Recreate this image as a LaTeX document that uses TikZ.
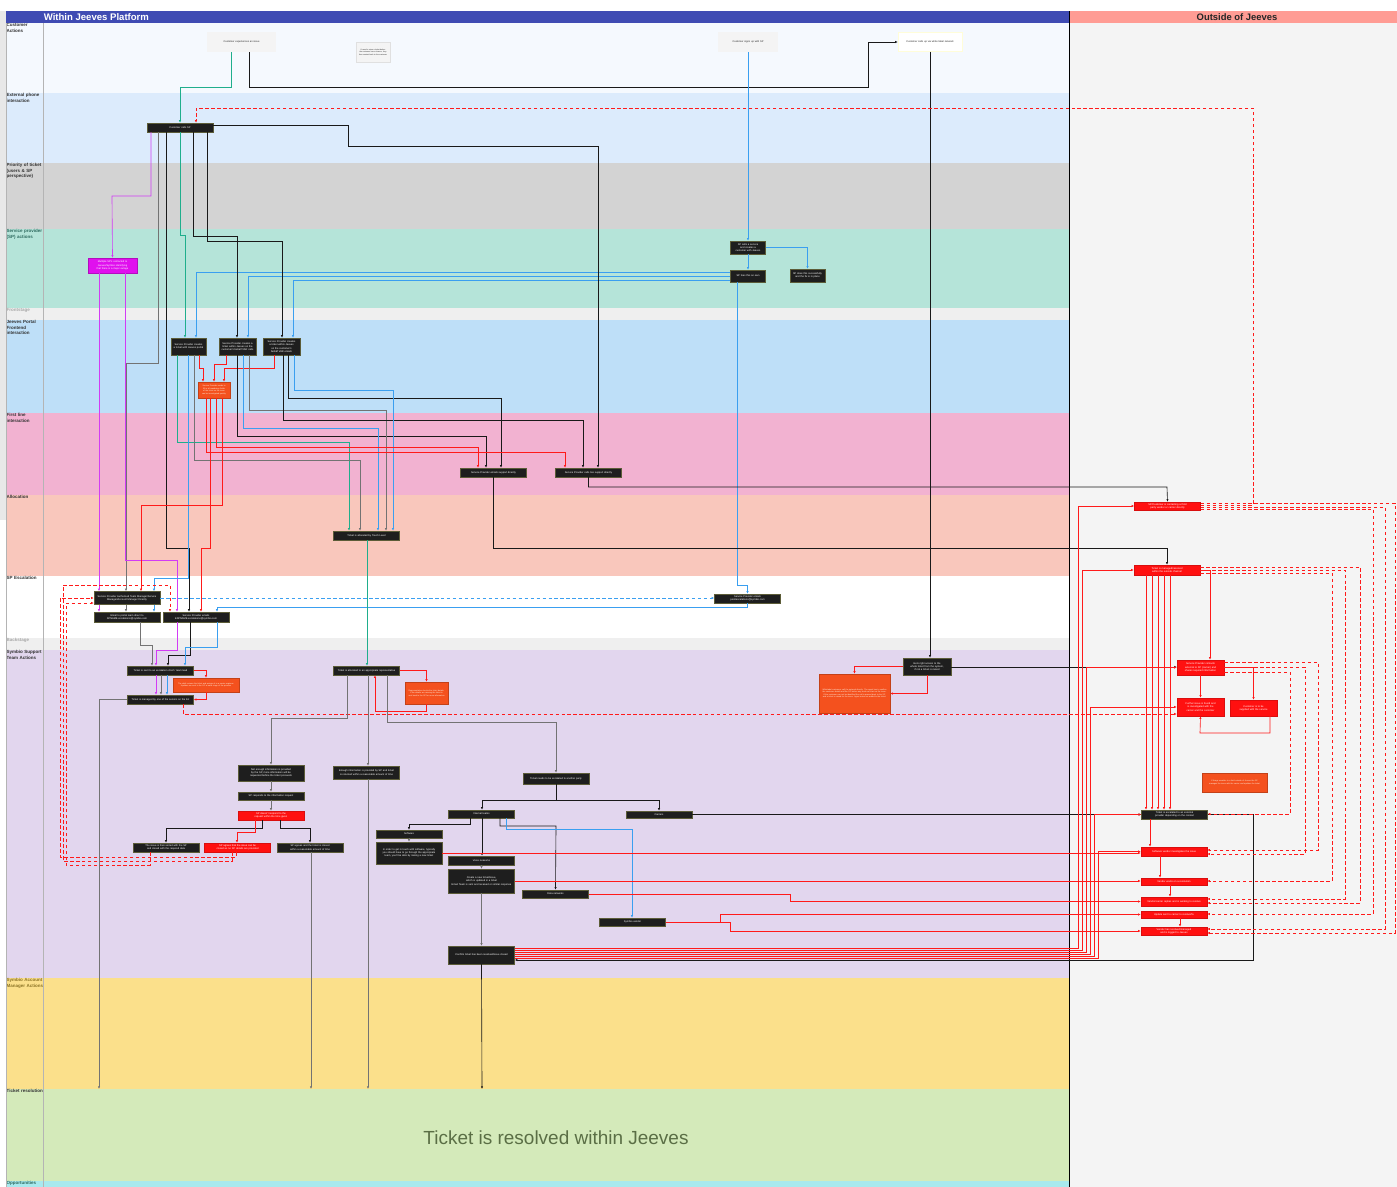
\documentclass[tikz,border=0pt]{standalone}
\usepackage{fontspec}
\setmainfont{Liberation Sans}
\usetikzlibrary{arrows.meta}
\hyphenpenalty=10000
\exhyphenpenalty=10000

\definecolor{hdrblue}{HTML}{3F4BB3}
\definecolor{hdrsalmon}{HTML}{FF9C94}
\definecolor{laneCust}{HTML}{F5F9FE}
\definecolor{lanePhone}{HTML}{DCEBFC}
\definecolor{lanePrio}{HTML}{D3D3D3}
\definecolor{laneSP}{HTML}{B5E4D9}
\definecolor{laneStage}{HTML}{EFEFEF}
\definecolor{lanePortal}{HTML}{BEDFF8}
\definecolor{laneFirst}{HTML}{F2B2D1}
\definecolor{laneAlloc}{HTML}{F9C7BC}
\definecolor{laneSupport}{HTML}{E2D6EE}
\definecolor{laneAM}{HTML}{FBE08B}
\definecolor{laneRes}{HTML}{D4EABA}
\definecolor{laneOpp}{HTML}{A8E9EE}
\definecolor{outgrey}{HTML}{F4F4F4}
\definecolor{lanegrey}{HTML}{B4B4B4}
\definecolor{lblDark}{HTML}{333333}
\definecolor{lblTeal}{HTML}{2F6B60}
\definecolor{lblGrey}{HTML}{A8A8A8}
\definecolor{lblOlive}{HTML}{8C7426}
\definecolor{boxdark}{HTML}{1E1E1E}
\definecolor{boxedge}{HTML}{5C5C38}
\definecolor{boxred}{HTML}{FF1010}
\definecolor{boxorange}{HTML}{F4511E}
\definecolor{boxmag}{HTML}{E010EE}
\definecolor{custgrey}{HTML}{F4F4F4}
\definecolor{linered}{HTML}{FF1A1A}
\definecolor{lineblue}{HTML}{3A9FF0}
\definecolor{lineteal}{HTML}{1FAE8C}
\definecolor{linemag}{HTML}{D23CF5}
\definecolor{resgreen}{HTML}{5A6E45}

\tikzset{
  lanelbl/.style={anchor=north west, font=\fontsize{6.4}{7.4}\selectfont\bfseries,
    text width=1.85cm, align=left, inner sep=0.8pt},
  blk/.style={fill=boxdark, draw=boxedge, line width=0.5pt, text=white,
    font=\fontsize{3.6}{4.6}\selectfont, align=center, inner sep=0.6pt,
    minimum height=0.45cm},
  wide/.style={minimum width=3.3cm, text width=3.05cm},
  mid/.style={minimum width=2.4cm, text width=2.2cm},
  slim/.style={minimum width=1.75cm, text width=1.6cm},
  redbox/.style={blk, fill=boxred, draw=boxred!85!black},
  orgbox/.style={blk, fill=boxorange, draw=boxorange!80!black, text=white!88!orange,
    font=\fontsize{2.8}{3.6}\selectfont},
  magbox/.style={blk, fill=boxmag, draw=boxmag!80!black},
  cbox/.style={fill=custgrey, text=black!85, font=\fontsize{3.6}{4.6}\selectfont,
    align=center, inner sep=0.6pt},
  ln/.style={line width=0.9pt, -{Latex[length=1.3mm,width=1.1mm]}},
  bk/.style={ln, draw=black!90},
  gy/.style={ln, draw=black!55},
  bl/.style={ln, draw=lineblue},
  tl/.style={ln, draw=lineteal},
  rd/.style={ln, draw=linered},
  mg/.style={ln, draw=linemag},
  rdash/.style={ln, draw=linered, dash pattern=on 5pt off 3.5pt},
  bdash/.style={ln, draw=lineblue, dash pattern=on 5pt off 3.5pt},
}

\begin{document}
\begin{tikzpicture}[x=0.05cm, y=-0.05cm]
\useasboundingbox (0,0) rectangle (1397,1187);
\fill[white] (0,0) rectangle (1397,1187);

%%% lanes
\fill[black!9] (0,11) rectangle (6,520);
\foreach \ya/\yb/\col/\tc/\txt in {
  23/93/laneCust/lblDark/{Customer Actions},
  93/163/lanePhone/lblDark/{External phone interaction},
  163/229/lanePrio/lblDark/{Priority of ticket (users \& SP perspective)},
  229/308/laneSP/lblTeal/{Service provider (SP) actions},
  308/320/laneStage/lblGrey/{Frontstage},
  320/413/lanePortal/lblDark/{Jeeves Portal Frontend interaction},
  413/495/laneFirst/lblDark/{First line interaction},
  495/576/laneAlloc/lblDark/{Allocation},
  576/638/white/lblDark/{SP Escalation},
  638/650/laneStage/lblGrey/{Backstage},
  650/978/laneSupport/lblDark/{Symbio Support Team Actions},
  978/1089/laneAM/lblOlive/{Symbio Account Manager Actions},
  1089/1181/laneRes/lblDark/{Ticket resolution},
  1181/1187/laneOpp/lblTeal/{Opportunities}}{
  \fill[\col] (6,\ya) rectangle (1069,\yb);
  \draw[lanegrey, line width=0.8pt] (6,\yb) -- (1069,\yb);
  \node[lanelbl, text=\tc] (lbl\ya) at (6,\ya) {\txt};
}
\draw[lanegrey, line width=0.8pt] (43,11) -- (43,1187);
\draw[lanegrey, line width=0.8pt] (6,11) -- (6,1187);

%%% outside area + headers
\fill[outgrey] (1069,23) rectangle (1397,1187);
\fill[hdrblue] (6,11) rectangle (1069,23);
\fill[hdrsalmon] (1070,11) rectangle (1397,23);
\draw[black, line width=1pt] (1069,11) -- (1069,1187);
\node[anchor=west, inner sep=1pt, text=white, font=\fontsize{13.6}{15}\selectfont\bfseries] (hdrIn) at (43,17.5) {Within Jeeves Platform};
\node[inner sep=1pt, text=black!85, font=\fontsize{13.4}{15}\selectfont\bfseries] (hdrOut) at (1237,17.5) {Outside of Jeeves};

\node[text=resgreen, font=\fontsize{27}{32}\selectfont] (resolved) at (556,1138) {Ticket is resolved within Jeeves};

%%% customer / phone / SP
\node[cbox, minimum width=3.45cm, minimum height=1cm, text width=3.2cm] (cexp) at (241.5,42) {Customer experiences an issue};
\node[cbox, draw=black!12, line width=0.3pt, minimum width=1.7cm, minimum height=1cm, text width=1.55cm, font=\fontsize{2.6}{3.5}\selectfont] (cnote) at (373,52) {If need to raise a ticket before the customer has a chance, they then contact back to the customer};
\node[cbox, minimum width=3cm, minimum height=1cm, text width=2.8cm] (csign) at (748,42) {Customer signs up with SP};
\node[cbox, fill=white, draw=yellow!15!white, line width=0.5pt, minimum width=3.2cm, minimum height=0.95cm, text width=3.1cm] (cwhite) at (930,42) {Customer calls up via white label network};

\node[blk, wide] (ccall) at (180,127.5) {Customer calls SP};
\node[magbox, minimum width=2.45cm, minimum height=0.75cm, text width=2.3cm] (outage) at (112.5,265.5) {Multiple SP's contacted to Jeeves/Symbio identifying that there is a major outage};
\node[blk, slim, minimum height=0.65cm] (spsell) at (748,247.5) {SP sells a service and creates a customer with Jeeves};
\node[blk, slim, minimum height=0.6cm] (sptry) at (748,276) {SP tries this on own};
\node[blk, slim, minimum height=0.65cm] (spdone) at (807.5,275.5) {SP does this successfully and the fix is in place};

%%% portal
\node[blk, slim, minimum height=0.85cm] (tk1) at (188.5,346.5) {Service Provider creates a ticket with Jeeves portal};
\node[blk, slim, minimum width=1.85cm, minimum height=0.85cm] (tk2) at (237.5,346.5) {Service Provider creates a ticket within Jeeves on the customer's behalf VAR calls};
\node[blk, slim, minimum width=1.85cm, minimum height=0.85cm] (tk3) at (281.5,346.5) {Service Provider creates a ticket within Jeeves on the customer's behalf VAR emails};
\node[orgbox, minimum width=1.6cm, minimum height=0.8cm, text width=1.5cm] (note1) at (214,390) {Service Provider needs to fill in all mandatory fields of the ticket so the issue can be investigated quickly};

%%% first line + allocation
\node[blk, wide] (spmail) at (493.5,472.5) {Service Provider emails support directly};
\node[blk, wide] (spphone) at (588.5,472.5) {Service Provider calls live support directly};
\node[blk, wide] (alloc) at (366.5,535.5) {Ticket is allocated by Touch Level};

%%% SP escalation
\node[blk, wide, minimum height=0.65cm] (escmgr) at (127,598) {Service Provider Authorised Team Manager/Service Manager/Account Manager Directly};
\node[blk, wide, minimum height=0.5cm] (escportal) at (127,617) {Email to portal team direct to SPNAME.escalations@symbio.com};
\node[blk, wide, minimum height=0.5cm] (escmail) at (196,617) {Service Provider emails ESPNAME.escalations@symbio.com};
\node[blk, wide] (escpoint) at (747.5,598.5) {Service Provider emails pointescalations@symbio.com};

%%% support team
\node[blk, wide] (chief) at (160.5,670.5) {Ticket is sent to an escalation chief / team lead};
\node[orgbox, minimum width=3.3cm, minimum height=0.7cm, text width=3.1cm] (note2) at (206,685) {The chief reviews the ticket and assigns it to a senior engineer. Updates are sent to the SP at each stage of the process};
\node[blk, wide] (senior) at (160.5,699.5) {Ticket is managed by one of the seniors on the list};
\node[blk, wide] (rep) at (366.5,670.5) {Ticket is allocated to an appropriate representative};
\node[orgbox, minimum width=2.15cm, minimum height=1.1cm, text width=2cm] (note3) at (426.5,693) {Representative checks the ticket details. If the details are missing the ticket is sent back to the SP for more information};
\node[orgbox, minimum width=3.55cm, minimum height=1.95cm, text width=3.35cm] (note4) at (854.5,693.5) {Whitelabel customers call the network directly. The agent has to confirm the customer details and the SP before any work can start on the issue. If the customer can not be identified the call is passed back to the SP and a ticket is raised for the issue. Agent notes are added to the ticket.};
\node[blk, mid, minimum height=0.85cm] (access) at (927,666.5) {Gets right access to the whole ticket from the system, if not a ticket is raised};

\node[blk, wide, minimum height=0.8cm] (noinfo) at (271,773) {Not enough information is provided by the SP, more information will be requested before the ticket proceeds};
\node[blk, wide, minimum height=0.65cm] (okinfo) at (366.5,772.5) {Enough information is provided by SP and ticket is returned within a reasonable amount of time};
\node[blk, wide, minimum height=0.4cm] (resp) at (271,796) {SP responds to the information request};
\node[redbox, wide] (noresp) at (271,815.5) {SP doesn't respond to the request within the time given};
\node[blk, wide] (b1) at (166,847.5) {The issue is then sorted with the SP and closed with the required data};
\node[redbox, wide] (b2) at (237.5,847.5) {SP agrees that the issue can be closed as no SP details are provided};
\node[blk, wide] (b3) at (310,847.5) {SP agrees and the ticket is closed within a reasonable amount of time};
\node[blk, wide, minimum height=0.55cm] (escal) at (556,778.5) {Ticket needs to be escalated to another party};
\node[blk, wide, minimum height=0.4cm] (internal) at (481.5,814) {Internal teams};
\node[blk, wide, minimum height=0.35cm] (carriers) at (659,814.5) {Carriers};
\node[blk, wide, minimum height=0.4cm] (soft) at (409,834) {Software};
\node[blk, wide, minimum height=1.1cm] (softtxt) at (409,853) {In order to get in touch with software, typically you should have to go through the appropriate team, you'll be able by raising a new ticket};
\node[blk, wide] (voice) at (481.5,860.5) {Voice networks};
\node[blk, wide, minimum height=1.2cm] (voicetxt) at (481.5,881) {Create a new ticket/issue, which is updated in a ticket\\[1pt] Email Team is sent and received or similar response};
\node[blk, wide, minimum height=0.4cm] (data) at (555.5,894) {Data networks};
\node[blk, wide, minimum height=0.4cm] (symbio) at (632.5,922) {Symbio vendor};
\node[blk, wide, minimum height=0.9cm] (confirm) at (481.5,955) {Confirm ticket has been resolved/issue closed};

%%% outside of Jeeves
\node[redbox, wide, minimum height=0.4cm] (o1) at (1167.5,506) {SP/Customer is contacting a third party vendor or carrier directly};
\node[redbox, wide, minimum height=0.5cm] (o2) at (1167,570) {Ticket is managed/resolved within the outside channel};
\node[redbox, mid, minimum width=2.35cm, minimum height=0.75cm] (o3) at (1200.5,667.5) {Service Provider contacts external to SP (carrier) and shares required information};
\node[redbox, mid, minimum width=2.35cm, minimum height=0.9cm] (o4) at (1200.5,707) {Further issue is found and is investigated with the carrier and the customer};
\node[redbox, mid, minimum width=2.35cm, minimum height=0.8cm] (o5) at (1253.5,708) {Customer is to be supplied with the service};
\node[orgbox, minimum width=3.25cm, minimum height=0.95cm, text width=3.05cm] (o6) at (1234.5,782.5) {If things escalate to a fault outside of Jeeves the SP manages the issue with the carrier and updates the ticket};
\node[blk, wide] (o7) at (1174.5,814.5) {Ticket is escalated to an external provider depending on the context};
\node[redbox, wide] (o8) at (1174,851.5) {Software vendor investigates the issue};
\node[redbox, wide, minimum height=0.35cm] (o9) at (1174,881.5) {Vendor works on a resolution};
\node[redbox, wide] (o10) at (1174,901.5) {Vendor/carrier replies and is working to resolve};
\node[redbox, wide, minimum height=0.35cm] (o11) at (1174,914.5) {Update sent to carrier to resolve/fix};
\node[redbox, wide, minimum height=0.4cm] (o12) at (1174,931) {Vendor has resolved/managed and is logged to Jeeves};

\coordinate (res1) at (99,1089);
\coordinate (res2) at (311,1089);
\coordinate (res3) at (368,1089);
\coordinate (res4) at (482,1089);

%%% connectors: customer
\draw[bk] (cexp.south -| 249,0) -- (249,87) -| (868,42) -- (cwhite.west);
\draw[tl] (cexp.south -| 231,0) |- (180,87) -- (ccall.north);
\draw[bk] (cwhite.south) -- (cwhite.south |- access.north);
\draw[bl] (csign.south) -- (spsell.north);
\draw[bl] (spsell.south) -- (sptry.north);
\draw[bl] (spsell.east) -| (spdone.north);
\draw[bl] (sptry.west |- 0,272) -| (tk1.north -| 196,0);
\draw[bl] (sptry.west |- 0,276) -| (tk2.north -| 248,0);
\draw[bl] (sptry.west |- 0,280) -| (tk3.north -| 293,0);
\draw[bl] (sptry.south -| 737,0) -- (737,585) -| (escpoint.north);
\draw[bl] (escpoint.south) |- (217,607) -- (escmail.north -| 217,0);
\draw[bdash] (escmgr.east) -- (escmgr.east -| escpoint.west);

%%% connectors: customer calls SP
\draw[tl] (ccall.south) |- (185,235) -- (tk1.north -| 185,0);
\draw[bk] (ccall.south -| 193,0) |- (237,236) -- (tk2.north -| 237,0);
\draw[bk] (ccall.south -| 207,0) |- (282,241) -- (tk3.north -| 282,0);
\draw[bk] (ccall.east |- 0,125) -| (348,146) -| (spphone.north -| 598,0);
\draw[gy] (ccall.south -| 158,0) |- (126,363) -- (escmgr.north -| 126,0);
\draw[bk] (ccall.south -| 166,0) |- (189,548) -- (escmail.north -| 189,0);
\draw[mg] (ccall.south -| 151,0) |- (112,196) -- (outage.north);
\draw[mg] (outage.south -| 99,0) -- (escmgr.north -| 99,0);
\draw[mg] (outage.south -| 125,0) |- (177,560) -- (escmail.north -| 177,0);

%%% connectors: portal tickets
\draw[tl] (tk1.south -| 177,0) |- (349,442) -- (alloc.north -| 349,0);
\draw[bl] (tk1.south -| 188,0) |- (154,578) -- (escmgr.north -| 154,0);
\draw[gy] (tk1.south -| 194,0) |- (360,460) -- (alloc.north -| 360,0);
\draw[rd] (tk1.south -| 199,0) |- (203,368) -- (note1.north -| 203,0);
\draw[rd] (tk2.south -| 226,0) |- (214,364) -- (note1.north);
\draw[rd] (tk3.south -| 274,0) |- (224,368) -- (note1.north -| 224,0);
\draw[bk] (tk2.south -| 237,0) |- (486,436) -- (spmail.north -| 486,0);
\draw[bl] (tk2.south -| 243,0) |- (378,428) -- (alloc.north -| 378,0);
\draw[gy] (tk2.south -| 249,0) |- (386,410) -- (alloc.north -| 386,0);
\draw[bk] (tk3.south -| 283,0) |- (583,420) -- (spphone.north -| 583,0);
\draw[bk] (tk3.south -| 288,0) |- (501,398) -- (spmail.north -| 501,0);
\draw[bl] (tk3.south -| 294,0) |- (393,390) -- (alloc.north -| 393,0);
\draw[rd] (note1.south -| 216,0) |- (478,447) -- (spmail.north -| 478,0);
\draw[rd] (note1.south -| 206,0) |- (565,452) -- (spphone.north -| 565,0);
\draw[rd] (note1.south -| 210,0) |- (201,548) -- (escmail.north -| 201,0);
\draw[rd] (note1.south -| 222,0) |- (141,505) -- (escmgr.north -| 141,0);
\draw[bk] (spphone.south) |- (1167,487) -- (o1.north);
\draw[bk] (spmail.south) |- (1167,548) -- (o2.north);

%%% connectors: escalation
\draw[gy] (escmgr.south -| 126,0) -- (escportal.north -| 126,0);
\draw[mg] (escmgr.south -| 99,0) -- (escportal.north -| 99,0);
\draw[bl] (escmgr.south -| 154,0) -- (escportal.north -| 154,0);
\draw[gy] (escportal.south -| 140,0) |- (152,645) -- (chief.north -| 152,0);
\draw[mg] (escmail.south -| 177,0) |- (156,650) -- (chief.north -| 156,0);
\draw[bk] (escmail.south -| 190,0) |- (168,655) -- (chief.north -| 168,0);
\draw[bl] (escmail.south -| 217,0) |- (185,647) -- (chief.north -| 185,0);

%%% connectors: support team
\draw[mg] (chief.south -| 156,0) -- (senior.north -| 156,0);
\draw[gy] (chief.south -| 161,0) -- (senior.north -| 161,0);
\draw[bl] (chief.south -| 167,0) -- (senior.north -| 167,0);
\draw[rd] (chief.east) -| (note2.north);
\draw[rd] (note2.south) |- (senior.east);
\draw[gy] (senior.west) -| (res1);
\draw[rdash] (senior.south -| 183,0) |- (o4.west |- 0,714);
\draw[tl] (alloc.south -| 367,0) -- (rep.north -| 367,0);
\draw[gy] (rep.south -| 368,0) -- (okinfo.north -| 368,0);
\draw[gy] (okinfo.south -| 368,0) -- (res3);
\draw[rd] (rep.east) -| (note3.north);
\draw[rd] (note3.south) |- (375,711) -- (rep.south -| 375,0);
\draw[gy] (rep.south -| 347,0) |- (271,718) -- (noinfo.north);
\draw[gy] (rep.south -| 387,0) |- (556,722) -- (escal.north);
\draw[gy] (noinfo.south) -- (resp.north);
\draw[gy] (resp.south) -- (noresp.north);
\draw[bk] (noresp.south -| 262,0) |- (166,828) -- (b1.north);
\draw[rd] (noresp.south -| 255,0) |- (237,832) -- (b2.north -| 237,0);
\draw[bk] (noresp.south -| 280,0) |- (310,828) -- (b3.north);
\draw[gy] (b3.south -| 311,0) -- (res2);
\draw[rdash] (b2.south -| 236,0) |- (60,857) |- (escmgr.west);
\draw[rdash] (b2.south -| 232,0) |- (63,861) |- (170,585) -- (escmail.north -| 170,0);
\draw[rdash] (b1.south -| 150,0) |- (66,865) |- (escmgr.west |- 0,603);
\draw[bk] (escal.south) |- (482,800) -- (internal.north -| 482,0);
\draw[bk] (escal.south) |- (659,800) -- (carriers.north);
\draw[bk] (internal.south -| 470,0) |- (409,824) -- (soft.north);
\draw[bk] (internal.south -| 482,0) -- (voice.north -| 482,0);
\draw[bk] (internal.south -| 500,0) |- (556,826) -- (data.north);
\draw[bl] (internal.south -| 506,0) |- (632,829) -- (symbio.north -| 632,0);
\draw[gy] (soft.south) -- (softtxt.north);
\draw[gy] (voice.south) -- (voicetxt.north);
\draw[gy] (voicetxt.south) -- (confirm.north);
\draw[bk] (confirm.south) -- (res4);

%%% connectors: to and from outside
\draw[bk] (carriers.east) -- (carriers.east -| o7.west);
\draw[bk] (o7.east) -| (1253,960) -- (confirm.east |- 0,960);
\draw[bk] (access.east |- 0,667) -- (o3.west |- 0,667);
\draw[rd] (access.west) -| (note4.north);
\draw[rd] (access.south) |- (note4.east);
\draw[rd] (softtxt.east) -- (softtxt.east -| o8.west);
\draw[rd] (voicetxt.east) -- (voicetxt.east -| o9.west);
\draw[rd] (data.east) -- (790,894) |- (o10.west);
\draw[rd] (symbio.east) -- (720,922) |- (o11.west);
\draw[rd] (symbio.east) -- (730,922) |- (o12.west);
\foreach \t/\xb/\yb in {o1/1078/948, o2/1082/950, o3/1086/952, o4/1090/954, o7/1094/956, o8/1098/958}{
  \draw[rd] (confirm.east |- 0,\yb) -| (\t.west -| \xb,0) -- (\t.west);
}
\draw[rdash] (o1.east |- 0,505) -| (1253,108) -| (ccall.north -| 196,0);
\foreach \t/\ya/\xb/\tgt/\yb in {o1/503/1395/o12/933, o1/507/1385/o12/929, o1/509/1373/o11/914,
    o2/567/1360/o10/903, o2/570/1345/o10/899, o2/573/1332/o9/881,
    o3/662/1318/o8/850, o3/667/1305/o8/854, o3/672/1290/o7/814}{
  \draw[rdash] (\t.east |- 0,\ya) -| (\xb,\yb) -- (\tgt.east |- 0,\yb);
}
\foreach \x in {1146,1152,1158,1164,1170}{
  \draw[rd] (o2.south -| \x,0) -- (o7.north -| \x,0);
}
\draw[rd] (o2.east) -| (o3.north -| 1210,0);
\draw[rd] (o3.south) -- (o4.north);
\draw[rd] (o3.east) -| (o5.north);
\draw[rd] (o5.south -| 1270,0) |- (1200,733) -- (o4.south);
\draw[rd] (o7.south -| 1150,0) -- (o8.north -| 1150,0);
\draw[rd] (o8.south -| 1160,0) -- (o9.north -| 1160,0);
\draw[rd] (o9.south -| 1170,0) -- (o10.north -| 1170,0);
\draw[rd] (o11.south -| 1180,0) -- (o12.north -| 1180,0);
\end{tikzpicture}
\end{document}
